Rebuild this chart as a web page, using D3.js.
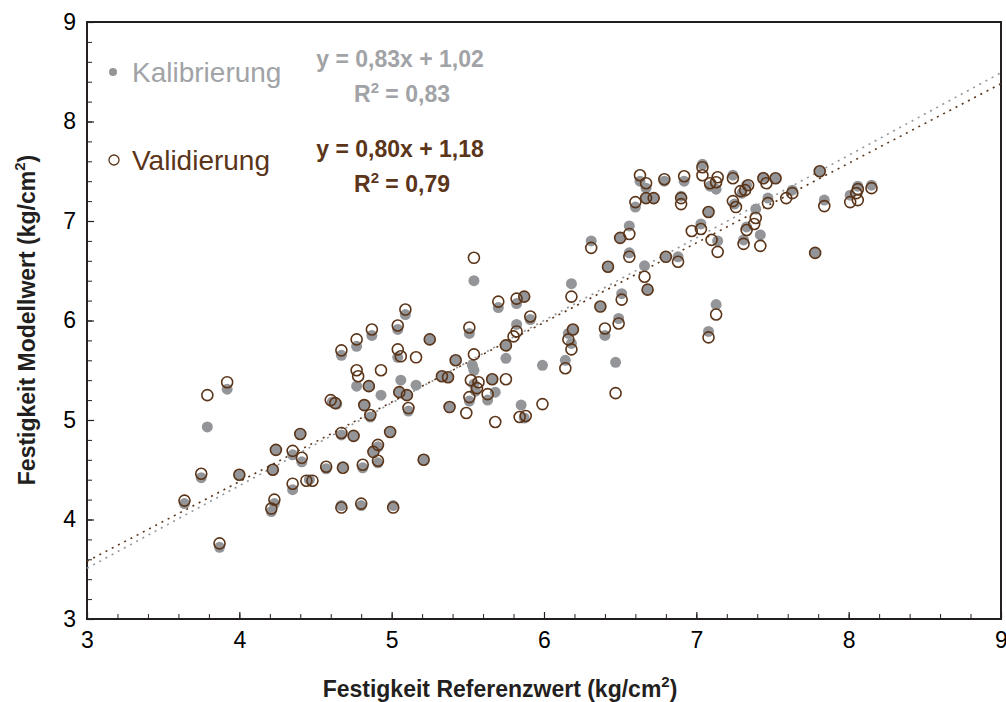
<!DOCTYPE html>
<html><head><meta charset="utf-8">
<script src="https://cdn.jsdelivr.net/npm/d3@7"></script>
<style>
html,body{margin:0;padding:0;background:#fff;}
svg{display:block;font-family:"Liberation Sans",Arial,sans-serif;}
</style></head>
<body>
<svg id="chart" width="1006" height="702"></svg>
<script>
// ---- data ----
const calX = [3.92,3.79,3.75,4.00,3.64,3.87,4.24,4.40,4.35,4.41,4.22,4.23,4.21,4.35,4.46,4.57,4.61,4.64,4.67,4.82,4.86,5.11,4.67,4.75,4.99,4.91,4.88,4.91,4.68,4.81,5.21,4.67,4.80,5.01,5.38,5.51,5.63,5.68,5.85,5.87,5.09,4.87,5.04,4.77,5.25,5.04,4.77,4.85,5.06,4.93,5.05,5.10,5.16,5.51,5.53,5.54,5.42,5.33,5.37,5.54,5.55,5.66,5.75,5.75,5.82,5.91,5.70,5.82,5.87,5.54,5.99,6.18,6.19,6.16,6.18,6.14,6.37,6.47,6.40,6.49,6.51,6.42,6.31,6.50,6.56,6.56,6.66,6.68,6.80,6.88,7.03,7.14,7.13,7.08,7.08,6.63,6.67,6.60,6.67,6.72,6.79,6.92,6.90,7.04,7.09,7.13,7.24,7.25,7.30,7.33,7.33,7.31,7.39,7.42,7.44,7.52,7.47,7.63,7.81,7.84,7.78,8.01,8.06,8.15];
const calY = [5.31,4.93,4.42,4.45,4.16,3.72,4.70,4.86,4.65,4.58,4.50,4.16,4.08,4.30,4.40,4.51,5.18,5.16,5.65,5.15,5.03,5.09,4.85,4.84,4.88,4.73,4.69,4.57,4.53,4.52,4.60,4.14,4.14,4.14,5.13,5.19,5.20,5.28,5.15,5.02,6.06,5.85,5.91,5.74,5.81,5.63,5.34,5.34,5.40,5.25,5.28,5.25,5.35,5.87,5.55,5.50,5.60,5.44,5.43,5.36,5.29,5.41,5.62,5.75,5.96,6.01,6.13,6.17,6.24,6.40,5.55,6.37,5.91,5.87,5.77,5.60,6.14,5.58,5.85,6.02,6.27,6.54,6.80,6.83,6.95,6.68,6.55,6.31,6.64,6.64,6.97,6.80,6.16,5.89,7.09,7.40,7.33,7.14,7.23,7.23,7.40,7.40,7.25,7.57,7.35,7.32,7.46,7.17,7.28,7.36,6.94,6.81,7.12,6.86,7.44,7.43,7.23,7.31,7.50,7.21,6.68,7.26,7.35,7.36];
const valX = [3.79,3.92,3.75,4.00,3.64,3.87,4.24,4.40,4.35,4.41,4.22,4.23,4.21,4.35,4.44,4.48,4.57,4.60,4.63,4.67,4.82,4.86,5.11,4.67,4.75,4.99,4.91,4.88,4.91,4.68,4.81,5.21,4.67,4.80,5.01,5.38,5.49,5.51,5.68,5.63,5.84,5.88,5.09,4.87,5.04,4.77,5.25,5.04,5.06,5.16,4.93,4.77,4.78,4.85,5.05,5.10,5.51,5.54,5.42,5.33,5.37,5.52,5.57,5.56,5.66,5.75,5.75,5.80,5.82,5.91,5.70,5.82,5.87,5.54,5.99,6.18,6.19,6.16,6.18,6.14,6.37,6.47,6.40,6.49,6.51,6.42,6.31,6.50,6.56,6.56,6.66,6.68,6.80,6.88,7.03,6.97,7.10,7.14,7.13,7.08,7.08,6.63,6.67,6.60,6.67,6.72,6.79,6.92,6.90,6.90,7.04,7.04,7.09,7.13,7.14,7.24,7.24,7.26,7.29,7.32,7.34,7.33,7.31,7.39,7.38,7.42,7.44,7.46,7.52,7.47,7.59,7.63,7.81,7.84,7.78,8.01,8.06,8.05,8.06,8.15];
const valY = [5.25,5.38,4.46,4.45,4.19,3.76,4.70,4.86,4.69,4.62,4.50,4.20,4.11,4.36,4.39,4.39,4.53,5.20,5.17,5.70,5.15,5.05,5.12,4.87,4.84,4.88,4.75,4.68,4.59,4.52,4.55,4.60,4.12,4.16,4.12,5.13,5.07,5.23,4.98,5.26,5.03,5.04,6.11,5.91,5.95,5.81,5.81,5.71,5.64,5.63,5.50,5.50,5.44,5.34,5.28,5.25,5.93,5.66,5.60,5.44,5.43,5.40,5.38,5.32,5.41,5.41,5.75,5.84,5.89,6.04,6.19,6.22,6.24,6.63,5.16,6.24,5.91,5.81,5.71,5.52,6.14,5.27,5.92,5.97,6.21,6.54,6.73,6.83,6.87,6.64,6.44,6.31,6.64,6.59,6.92,6.90,6.81,6.69,6.06,5.83,7.09,7.46,7.38,7.19,7.23,7.23,7.42,7.45,7.23,7.17,7.54,7.46,7.38,7.39,7.44,7.43,7.20,7.14,7.30,7.31,7.36,6.91,6.77,7.03,6.97,6.75,7.43,7.38,7.43,7.18,7.23,7.28,7.50,7.15,6.68,7.19,7.32,7.28,7.21,7.33];
const seriesNames = ["Kalibrierung","Validierung"];
const fitSlope = [0.83, 0.80];
const fitIntercept = [1.02, 1.18];
const fitR2 = ["0,83", "0,79"];
const tickValues = [3,4,5,6,7,8,9];
const xTitle = "Festigkeit Referenzwert (kg/cm";
const yTitle = "Festigkeit Modellwert (kg/cm";

// ---- chart ----
const gray = "#939598", grayText = "#a1a3a6", brown = "#5b3519", axisCol = "#231f20";
const svg = d3.select("#chart");
const x = d3.scaleLinear().domain([3,9]).range([87,1001]);
const y = d3.scaleLinear().domain([3,9]).range([619,22]);
const minor = d3.range(3,9.0001,0.2).map(v=>+v.toFixed(1));

// minor ticks
svg.append("g").attr("transform","translate(0,619)")
  .call(d3.axisBottom(x).tickValues(minor).tickSize(-5).tickFormat(""))
  .call(g=>{g.select(".domain").remove(); g.selectAll("line").attr("stroke",axisCol).attr("stroke-width",1);});
svg.append("g").attr("transform","translate(87,0)")
  .call(d3.axisLeft(y).tickValues(minor).tickSize(-5).tickFormat(""))
  .call(g=>{g.select(".domain").remove(); g.selectAll("line").attr("stroke",axisCol).attr("stroke-width",1);});
// major ticks + labels
svg.append("g").attr("transform","translate(0,619)")
  .call(d3.axisBottom(x).tickValues(tickValues).tickSize(-7).tickPadding(13).tickFormat(d3.format("d")))
  .call(g=>{g.select(".domain").remove(); g.selectAll("line").attr("stroke",axisCol).attr("stroke-width",1.2);
    g.selectAll("text").attr("font-size",23).attr("fill","#000").attr("font-family","Liberation Sans, Arial, sans-serif");});
svg.append("g").attr("transform","translate(87,0)")
  .call(d3.axisLeft(y).tickValues(tickValues).tickSize(-7).tickPadding(11).tickFormat(d3.format("d")))
  .call(g=>{g.select(".domain").remove(); g.selectAll("line").attr("stroke",axisCol).attr("stroke-width",1.2);
    g.selectAll("text").attr("font-size",23).attr("fill","#000").attr("font-family","Liberation Sans, Arial, sans-serif");});

// frame
svg.append("rect").attr("x",x(3)).attr("y",y(9)).attr("width",x(9)-x(3)).attr("height",y(3)-y(9))
  .attr("fill","none").attr("stroke",axisCol).attr("stroke-width",2);

// trend lines
const cols = [gray, brown];
fitSlope.forEach((m,i)=>{
  svg.append("line").attr("x1",x(3)).attr("y1",y(m*3+fitIntercept[i]))
    .attr("x2",x(9)).attr("y2",y(m*9+fitIntercept[i]))
    .attr("stroke",cols[i]).attr("stroke-width",1.6).attr("stroke-dasharray","2,5");
});

// points
const cal = calX.map((v,i)=>[v,calY[i]]);
const val = valX.map((v,i)=>[v,valY[i]]);
svg.append("g").selectAll("circle").data(cal).join("circle")
  .attr("cx",d=>x(d[0])).attr("cy",d=>y(d[1])).attr("r",5.5).attr("fill",gray);
svg.append("g").selectAll("circle").data(val).join("circle")
  .attr("cx",d=>x(d[0])).attr("cy",d=>y(d[1])).attr("r",5.5)
  .attr("fill","none").attr("stroke",brown).attr("stroke-width",1.6);

// legend
svg.append("circle").attr("cx",113).attr("cy",72).attr("r",4).attr("fill",gray);
svg.append("text").attr("x",132).attr("y",82).attr("font-size",28).attr("fill",grayText).text(seriesNames[0]);
svg.append("circle").attr("cx",114).attr("cy",160).attr("r",5).attr("fill","none").attr("stroke",brown).attr("stroke-width",1.3);
svg.append("text").attr("x",132).attr("y",170).attr("font-size",28).attr("fill",brown).text(seriesNames[1]);

// equations
const eqCols = [grayText, brown];
const eqY = [67, 157];
fitSlope.forEach((m,i)=>{
  const f = v=>v.toFixed(2).replace(".",",");
  svg.append("text").attr("x",400).attr("y",eqY[i]).attr("text-anchor","middle")
    .attr("font-size",23).attr("font-weight","bold").attr("fill",eqCols[i])
    .text(`y = ${f(m)}x + ${f(fitIntercept[i])}`);
  const t = svg.append("text").attr("x",402).attr("y",eqY[i]+35).attr("text-anchor","middle")
    .attr("font-size",23).attr("font-weight","bold").attr("fill",eqCols[i]);
  t.append("tspan").text("R");
  t.append("tspan").attr("dy",-9).attr("font-size",15).text("2");
  t.append("tspan").attr("dy",9).text(` = ${fitR2[i]}`);
});

// axis titles
const xt = svg.append("text").attr("x",500).attr("y",697).attr("text-anchor","middle")
  .attr("font-size",23).attr("font-weight","bold").attr("fill","#231f20");
xt.append("tspan").text(xTitle);
xt.append("tspan").attr("dy",-10).attr("font-size",15).text("2");
xt.append("tspan").attr("dy",10).text(")");
const yt = svg.append("text").attr("transform","translate(35,320) rotate(-90)").attr("text-anchor","middle")
  .attr("font-size",23).attr("font-weight","bold").attr("fill","#231f20");
yt.append("tspan").text(yTitle);
yt.append("tspan").attr("dy",-10).attr("font-size",15).text("2");
yt.append("tspan").attr("dy",10).text(")");
</script>
</body></html>
